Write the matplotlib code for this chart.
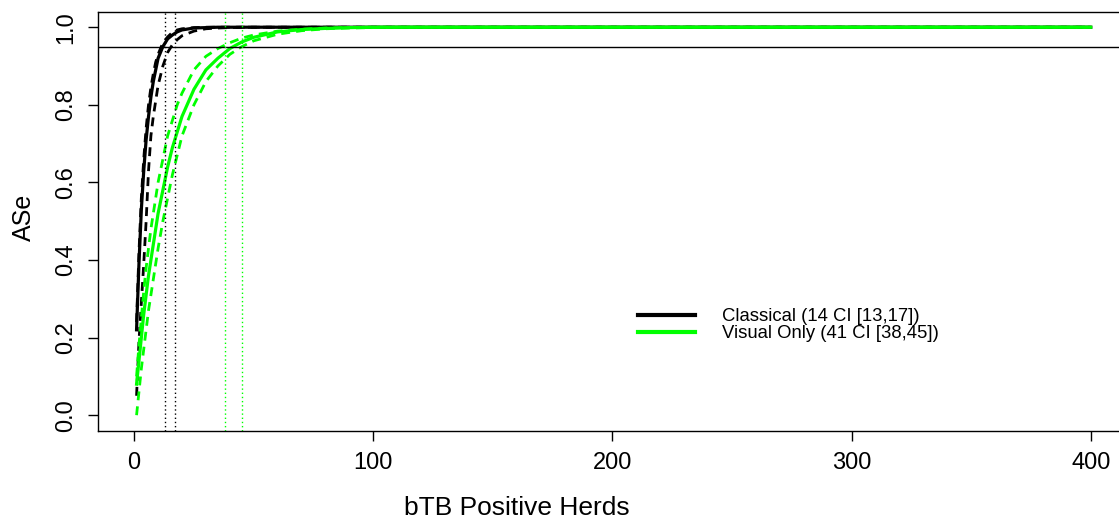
import matplotlib
matplotlib.use("Agg")
import matplotlib.pyplot as plt
from matplotlib.lines import Line2D

plt.rcParams['font.family'] = ['Liberation Sans', 'DejaVu Sans']

herds = [1, 2, 3, 4, 5, 6, 7, 8, 9, 10, 12, 14, 16, 18, 20, 25, 30, 35, 40, 45,
         50, 60, 70, 80, 90, 100, 110, 150, 200, 300, 400]

# Classical: median and CI bounds
classical_mid = [0.22, 0.39, 0.53, 0.63, 0.71, 0.77, 0.82, 0.86, 0.89, 0.92, 0.95, 0.97,
                 0.98, 0.988, 0.993, 0.998, 0.999, 1.0, 1.0, 1.0,
                 1.0, 1.0, 1.0, 1.0, 1.0, 1.0, 1.0, 1.0, 1.0, 1.0, 1.0]
classical_lo = [0.05, 0.19, 0.29, 0.39, 0.50, 0.63, 0.72, 0.77, 0.81, 0.85, 0.90, 0.935,
                0.955, 0.968, 0.978, 0.99, 0.996, 0.998, 0.999, 1.0,
                1.0, 1.0, 1.0, 1.0, 1.0, 1.0, 1.0, 1.0, 1.0, 1.0, 1.0]
classical_hi = [0.24, 0.42, 0.56, 0.66, 0.74, 0.80, 0.845, 0.88, 0.91, 0.93, 0.96, 0.975,
                0.987, 0.993, 0.996, 0.999, 1.0, 1.0, 1.0, 1.0,
                1.0, 1.0, 1.0, 1.0, 1.0, 1.0, 1.0, 1.0, 1.0, 1.0, 1.0]

# Visual only: median and CI bounds
visual_mid = [0.08, 0.14, 0.20, 0.26, 0.31, 0.36, 0.40, 0.44, 0.48, 0.52, 0.58, 0.64,
              0.69, 0.73, 0.77, 0.84, 0.89, 0.92, 0.945, 0.962,
              0.974, 0.988, 0.994, 0.997, 0.999, 1.0, 1.0, 1.0, 1.0, 1.0, 1.0]
visual_lo = [0.0, 0.06, 0.12, 0.17, 0.22, 0.27, 0.31, 0.35, 0.39, 0.43, 0.50, 0.56,
             0.62, 0.67, 0.72, 0.80, 0.86, 0.90, 0.93, 0.95,
             0.965, 0.982, 0.991, 0.996, 0.998, 0.999, 1.0, 1.0, 1.0, 1.0, 1.0]
visual_hi = [0.10, 0.18, 0.25, 0.32, 0.38, 0.43, 0.48, 0.52, 0.56, 0.60, 0.66, 0.72,
             0.76, 0.80, 0.83, 0.89, 0.925, 0.945, 0.96, 0.972,
             0.98, 0.99, 0.995, 0.998, 0.999, 1.0, 1.0, 1.0, 1.0, 1.0, 1.0]

threshold = 0.95
classical_ci = [13, 17]
visual_ci = [38, 45]
labels = ["Classical (14 CI [13,17])", "Visual Only (41 CI [38,45])"]

GREEN = "#00FF00"

fig = plt.figure(figsize=(11.19, 5.21), dpi=100)
ax = fig.add_axes([98.3 / 1119, 1 - 430.7 / 521, (1129 - 98.3) / 1119, 419 / 521])

dash = (0, (3.2, 2.2))
ax.plot(herds, classical_mid, color="black", lw=2.3)
ax.plot(herds, classical_lo, color="black", lw=2.0, ls=dash)
ax.plot(herds, classical_hi, color="black", lw=2.0, ls=dash)
ax.plot(herds, visual_mid, color=GREEN, lw=2.3)
ax.plot(herds, visual_lo, color=GREEN, lw=2.0, ls=dash)
ax.plot(herds, visual_hi, color=GREEN, lw=2.0, ls=dash)

ax.axhline(threshold, color="black", lw=1.0)
for v in classical_ci:
    ax.axvline(v, color="black", lw=1.0, ls=(0, (1, 2)))
for v in visual_ci:
    ax.axvline(v, color=GREEN, lw=1.0, ls=(0, (1, 2)))

ax.set_xlim(-15.0, 416)
ax.set_ylim(-0.04, 1.04)
ax.set_xticks([0, 100, 200, 300, 400])
ax.set_yticks([0.0, 0.2, 0.4, 0.6, 0.8, 1.0])
ax.set_yticklabels(["0.0", "0.2", "0.4", "0.6", "0.8", "1.0"])
ax.tick_params(axis="both", length=7.2, width=1.0, labelsize=17, pad=8)
ax.tick_params(axis="y", labelrotation=90)
for lab in ax.get_yticklabels():
    lab.set_va("center")
for s in ax.spines.values():
    s.set_linewidth(1.0)

ax.set_xlabel("bTB Positive Herds", fontsize=19)
ax.set_ylabel("ASe", fontsize=18)
ax.xaxis.set_label_coords(0.406, -0.1845)
ax.xaxis.label.set_va("center")
ax.yaxis.set_label_coords(-0.0721, 0.51)
ax.yaxis.label.set_va("center")

handles = [Line2D([], [], color="black", lw=3), Line2D([], [], color=GREEN, lw=3)]
fig.legend(handles, labels, loc="upper left", bbox_to_anchor=(638 / 1119, 1 - 308 / 521),
           frameon=False, fontsize=13.3, borderpad=0, borderaxespad=0,
           handlelength=3.08, handletextpad=1.46, labelspacing=0.0)

fig.savefig("out.png", dpi=100)
